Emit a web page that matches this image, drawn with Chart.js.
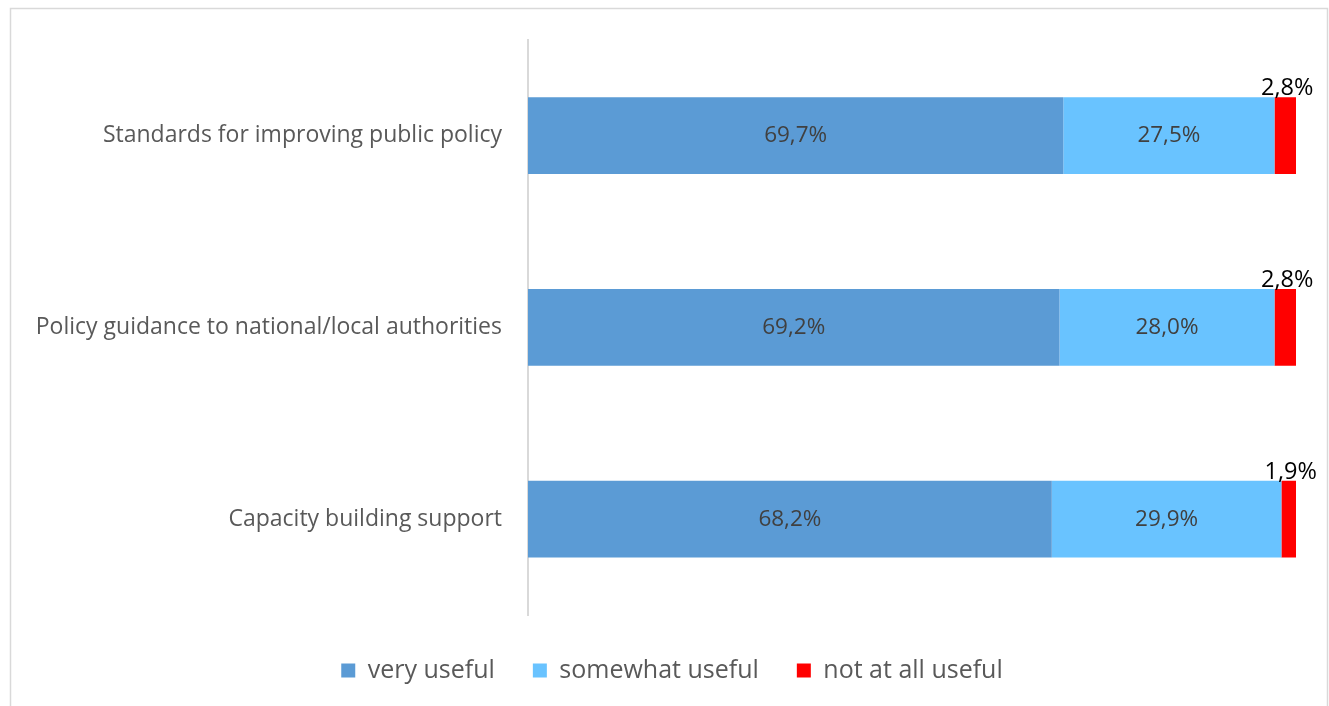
<!DOCTYPE html>
<html>
<head>
<meta charset="utf-8">
<script src="https://cdn.jsdelivr.net/npm/chart.js@4.4.1/dist/chart.umd.min.js"></script>
<style>
  html, body { margin: 0; padding: 0; background: #fff; }
  #wrap { position: relative; width: 1329px; height: 706px; }
</style>
</head>
<body>
<div id="wrap"><canvas id="myChart" width="1329" height="706"></canvas></div>
<script>
const categories = ['Standards for improving public policy', 'Policy guidance to national/local authorities', 'Capacity building support'];
const veryUseful = [69.7, 69.2, 68.2];
const somewhatUseful = [27.5, 28.0, 29.9];
const notUseful = [2.8, 2.8, 1.9];

const FONT = '"Open Sans"';

// percentages with a decimal comma, inside the blue bars and above the red ones
const valueLabels = {
  id: 'valueLabels',
  afterDatasetsDraw(chart) {
    const ctx = chart.ctx;
    ctx.save();
    chart.data.datasets.forEach((ds, i) => {
      const meta = chart.getDatasetMeta(i);
      meta.data.forEach((bar, j) => {
        const p = bar.getProps(['x', 'y', 'base', 'height'], true);
        const text = ds.data[j].toFixed(1).replace('.', ',') + '%';
        const cx = (p.x + p.base) / 2;
        if (i < 2) {
          ctx.font = '22.5px ' + FONT;
          ctx.fillStyle = '#404040';
          ctx.textAlign = 'center';
          ctx.textBaseline = 'middle';
          ctx.fillText(text, cx, p.y);
        } else {
          ctx.font = '23.5px ' + FONT;
          ctx.fillStyle = '#000';
          ctx.textAlign = 'center';
          ctx.textBaseline = 'alphabetic';
          ctx.fillText(text, cx + 2, p.y - p.height / 2 - 2);
        }
      });
    });
    ctx.restore();
  }
};

// light frame round the whole chart; legend nudged a bit to the right
const frame = {
  id: 'frame',
  afterLayout(chart) {
    chart.legend.left += 48;
  },
  beforeDraw(chart) {
    const ctx = chart.ctx;
    ctx.save();
    ctx.strokeStyle = '#d9d9d9';
    ctx.lineWidth = 1.5;
    ctx.strokeRect(10.5, 8.5, 1317, 720);
    ctx.restore();
  }
};

new Chart('myChart', {
  type: 'bar',
  data: {
    labels: categories,
    datasets: [{
      label: 'very useful',
      data: veryUseful,
      backgroundColor: '#5B9BD5'
    }, {
      label: 'somewhat useful',
      data: somewhatUseful,
      backgroundColor: '#69C3FF'
    }, {
      label: 'not at all useful',
      data: notUseful,
      backgroundColor: '#FF0000'
    }]
  },
  plugins: [frame, valueLabels],
  options: {
    indexAxis: 'y',
    responsive: false,
    animation: false,
    datasets: { bar: { barPercentage: 0.4, categoryPercentage: 1 } },
    layout: { padding: { top: 34, right: 33, bottom: 13, left: 0 } },
    scales: {
      x: { stacked: true, min: 0, max: 100, display: false },
      y: {
        stacked: true,
        grid: { display: false, drawTicks: false },
        border: { display: true, color: '#d9d9d9', width: 2 },
        ticks: { color: '#595959', font: { family: FONT, size: 23 }, padding: 26 },
        afterFit(scale) { scale.width = 528; }
      }
    },
    plugins: {
      tooltip: { enabled: false },
      legend: {
        position: 'bottom',
        title: { display: true, text: '', font: { size: 5, lineHeight: 1 }, padding: 0 },
        labels: {
          color: '#595959',
          font: { family: FONT, size: 25 },
          boxWidth: 14,
          boxHeight: 14,
          padding: 38
        }
      }
    }
  }
});
</script>
</body>
</html>
